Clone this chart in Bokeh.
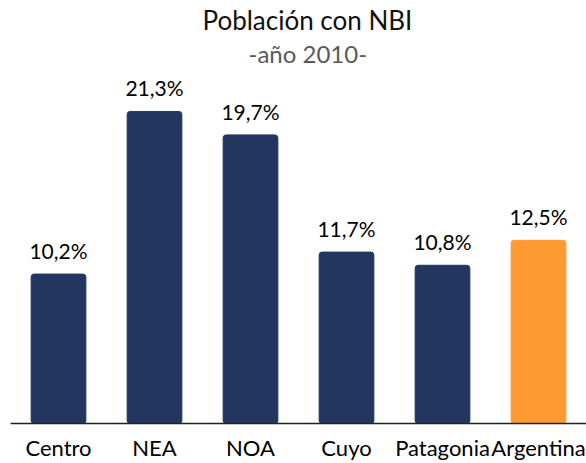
from bokeh.plotting import figure
from bokeh.models import ColumnDataSource, LabelSet, Title, Range1d
from bokeh.core.properties import value
from bokeh.embed import file_html
from bokeh.resources import INLINE

regions = ["Centro", "NEA", "NOA", "Cuyo", "Patagonia", "Argentina"]
values = [10.2, 21.3, 19.7, 11.7, 10.8, 12.5]
colors = ["#22375F", "#22375F", "#22375F", "#22375F", "#22375F", "#FF9A33"]
labels = [f"{v:.1f}%".replace(".", ",") for v in values]

source = ColumnDataSource(dict(x=regions, top=values, color=colors, label=labels))

FONT = "Lato"

p = figure(x_range=regions, y_range=Range1d(0, 24.3), width=586, height=463,
           output_backend="svg", toolbar_location=None, tools="",
           min_border_left=10, min_border_right=0, min_border_top=3, min_border_bottom=0)
p.title.visible = False

p.add_layout(Title(text="-año 2010-", text_font=FONT, text_font_size="24px",
                   text_font_style="normal", text_color="#595959", align="left",
                   offset=238, standoff=0), "above")
p.add_layout(Title(text="Población con NBI", text_font=FONT, text_font_size="26px",
                   text_font_style="normal", text_color="#111111", align="left",
                   offset=192, standoff=2), "above")

p.vbar(x="x", top="top", width=0.57, color="color", source=source,
       line_color="color", border_radius=3)

p.add_layout(LabelSet(x="x", y="top", text="label", source=source, y_offset=15,
                      text_align="center", text_baseline="alphabetic",
                      text_font=value(FONT), text_font_size=value("21px"),
                      text_color="#000000"))

p.yaxis.visible = False
p.xgrid.visible = False
p.ygrid.visible = False
p.outline_line_color = None
p.xaxis.axis_line_color = "#222222"
p.xaxis.axis_line_width = 1.5
p.xaxis.major_tick_line_color = None
p.xaxis.minor_tick_line_color = None
p.xaxis.major_tick_in = 0
p.xaxis.major_tick_out = 0
p.xaxis.major_label_standoff = 10
p.xaxis.major_label_text_font = FONT
p.xaxis.major_label_text_font_size = "22px"
p.xaxis.major_label_text_color = "#000000"
p.x_range.range_padding = 0

open("out.html", "w").write(file_html(p, INLINE))
